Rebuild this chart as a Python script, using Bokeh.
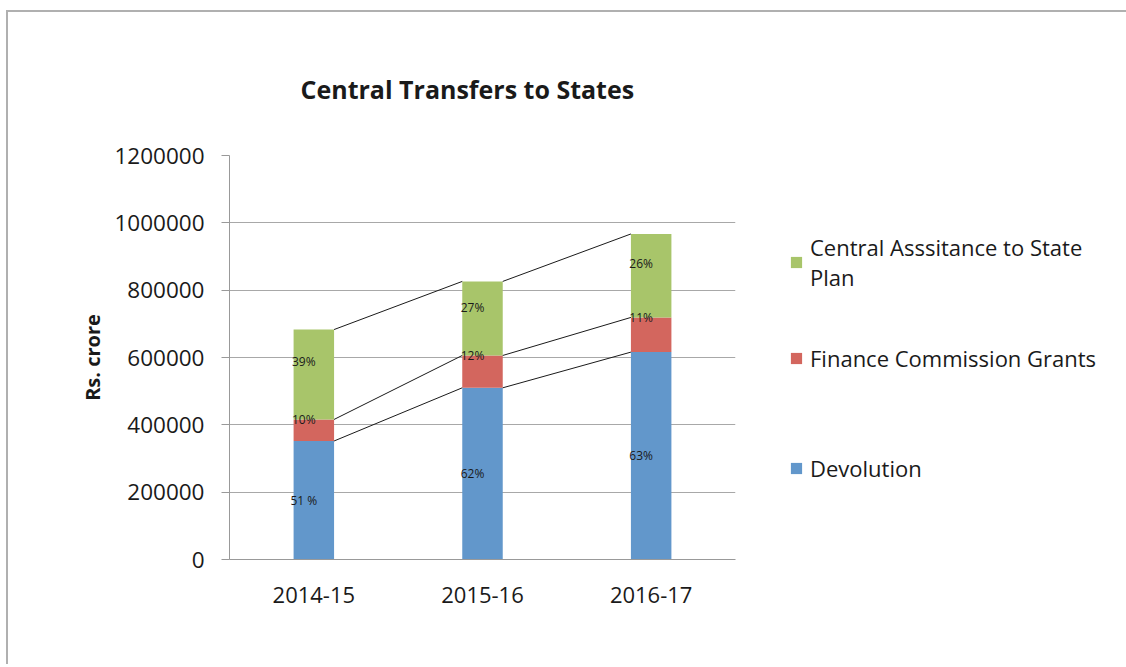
from bokeh.plotting import figure
from bokeh.layouts import row
from bokeh.models import (ColumnDataSource, FactorRange, Range1d, Legend, LegendItem,
                          FixedTicker, NumeralTickFormatter)
from bokeh.transform import dodge
from bokeh.core.properties import value
from bokeh.embed import file_html
from bokeh.resources import INLINE

# ---------------- data ----------------
years = ["2014-15", "2015-16", "2016-17"]
devolution = [352000, 510000, 616000]
fc_grants = [64000, 96000, 103000]
casp = [267000, 220000, 248000]
dev_pct = ["51 %", "62%", "63%"]
fc_pct = ["10%", "12%", "11%"]
casp_pct = ["39%", "27%", "26%"]
series_keys = ["dev", "fc", "casp"]
series_names = ["Devolution", "Finance Commission Grants", "Central Asssitance to State\nPlan"]
colors = ["#6297CB", "#D3665E", "#A8C56A"]
y_ticks = [0, 200000, 400000, 600000, 800000, 1000000, 1200000]
title_text = "Central Transfers to States"
y_title = "Rs. crore"

FONT = "Open Sans"
W1, W2, H = 760, 358, 652
FL, FR, FT, FB = 221, 727, 143, 547   # frame edges in canvas px

# ---------------- derived ----------------
lvl1 = list(devolution)
lvl2 = [d + f for d, f in zip(devolution, fc_grants)]
lvl3 = [a + c for a, c in zip(lvl2, casp)]

src = ColumnDataSource(dict(year=years, dev=devolution, fc=fc_grants, casp=casp))

p = figure(x_range=FactorRange(*years), y_range=Range1d(0, 1200000),
           width=W1, height=H, output_backend="svg", toolbar_location=None,
           min_border_left=FL, min_border_right=W1 - FR,
           min_border_top=FT, min_border_bottom=H - FB)
p.outline_line_color = None
p.background_fill_color = "white"
p.border_fill_color = "white"

bars = p.vbar_stack(series_keys, x="year", width=0.24, color=colors,
                    line_color=None, source=src)

# connector lines
for lvl in (lvl1, lvl2, lvl3):
    seg = ColumnDataSource(dict(x0=years[:-1], x1=years[1:], y0=lvl[:-1], y1=lvl[1:]))
    p.segment(x0=dodge("x0", 0.12, range=p.x_range), y0="y0",
              x1=dodge("x1", -0.12, range=p.x_range), y1="y1",
              source=seg, line_color="#1a1a1a", line_width=1)

# percentage labels
lab_years = years * 3
lab_y = ([d * 0.5 for d in devolution] + lvl2 +
         [a + c * 0.65 for a, c in zip(lvl2, casp)])
lab_txt = dev_pct + fc_pct + casp_pct
lsrc = ColumnDataSource(dict(x=lab_years, y=lab_y, t=lab_txt))
p.text(x="x", y="y", text="t", source=lsrc, x_offset=-10, text_align="center",
       text_baseline="middle", text_font=value(FONT), text_font_size="12px",
       text_color="#1a1a1a")

# axes
p.xgrid.grid_line_color = None
p.ygrid.ticker = FixedTicker(ticks=y_ticks)
p.ygrid.grid_line_color = "#a8a8a8"
p.ygrid.grid_line_width = 1

p.yaxis.ticker = FixedTicker(ticks=y_ticks)
p.yaxis.formatter = NumeralTickFormatter(format="0")
p.yaxis.minor_tick_line_color = None
p.yaxis.major_tick_in = 0
p.yaxis.major_tick_out = 8
p.yaxis.major_tick_line_color = "#999999"
p.yaxis.axis_line_color = "#999999"
p.yaxis.major_label_standoff = 17
p.yaxis.major_label_text_font = FONT
p.yaxis.major_label_text_font_size = "22.5px"
p.yaxis.major_label_text_color = "#1a1a1a"
p.yaxis.axis_label = y_title
p.yaxis.axis_label_text_font = FONT
p.yaxis.axis_label_text_font_style = "bold"
p.yaxis.axis_label_text_font_size = "20px"
p.yaxis.axis_label_text_color = "#1a1a1a"
p.yaxis.axis_label_standoff = 5

p.xaxis.major_tick_line_color = None
p.xaxis.minor_tick_line_color = None
p.xaxis.axis_line_color = "#999999"
p.xaxis.major_label_standoff = 21
p.xaxis.major_label_text_font = FONT
p.xaxis.major_label_text_font_size = "22px"
p.xaxis.major_label_text_color = "#1a1a1a"

# title
p.title.text = title_text
p.title.align = "left"
p.title.offset = 300 - 229
p.title.standoff = 100
p.title.text_font = FONT
p.title.text_font_style = "bold"
p.title.text_font_size = "25px"
p.title.text_color = "#1a1a1a"

# ---------------- legend panel ----------------
p2 = figure(x_range=Range1d(0, 1), y_range=Range1d(0, 1), width=W2, height=H,
            output_backend="svg", toolbar_location=None,
            min_border_left=0, min_border_right=0, min_border_top=0, min_border_bottom=0)
p2.axis.visible = False
p2.grid.visible = False
p2.outline_line_color = None
p2.border_fill_color = "white"

# swatch renderers (no drawable data) that only feed the legend glyphs
nan = float("nan")
dummy = [p2.vbar(x=[nan], top=[nan], bottom=[nan], width=0.1, color=c, line_color=None)
         for c in colors]

legend_pos = {2: (21, 267), 1: (21, 186), 0: (21, 76)}
for idx in (2, 1, 0):
    lg = Legend(items=[LegendItem(label=series_names[idx], renderers=[dummy[idx]])],
                location=legend_pos[idx], padding=0, margin=0, border_line_color=None,
                background_fill_alpha=0, glyph_width=14, glyph_height=14,
                label_standoff=7, label_height=30,
                label_text_font=FONT, label_text_font_size="22px",
                label_text_color="#1a1a1a", label_text_line_height=1.36)
    p2.add_layout(lg)

layout = row(p, p2)
layout.styles = {"border-top": "2px solid #b0b0b0", "border-left": "2px solid #b0b0b0",
                 "margin-top": "10px", "margin-left": "6px"}

open("out.html", "w").write(file_html(layout, INLINE))
